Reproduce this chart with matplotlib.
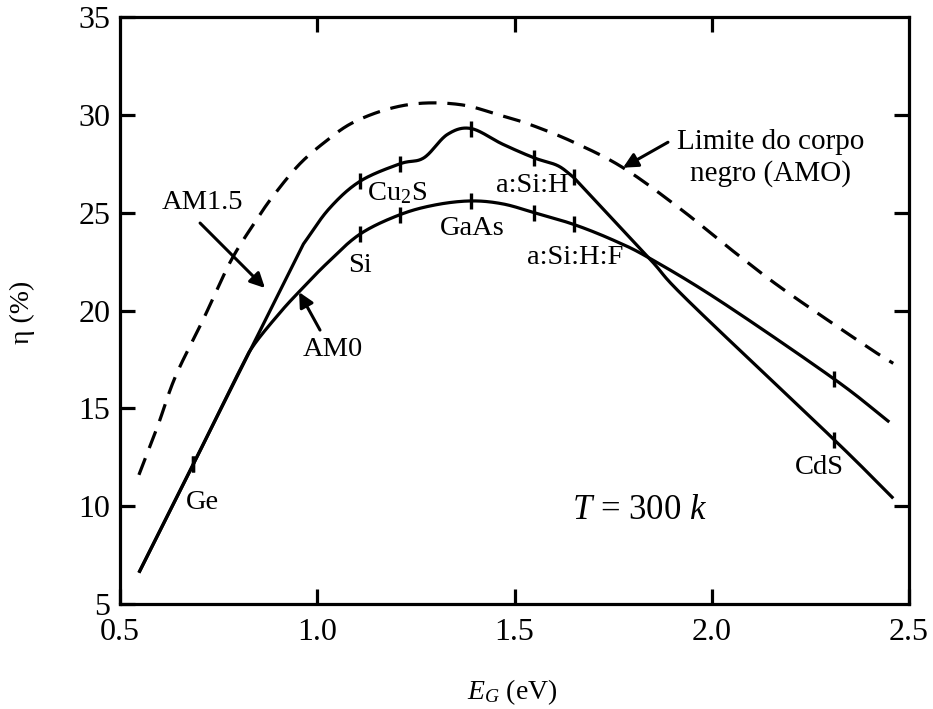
import numpy as np
import matplotlib
matplotlib.use("Agg")
import matplotlib.pyplot as plt

plt.rcParams['font.family'] = ['Liberation Serif', 'DejaVu Serif']
plt.rcParams['mathtext.fontset'] = 'custom'
plt.rcParams['mathtext.rm'] = 'Liberation Serif'
plt.rcParams['mathtext.it'] = 'Liberation Serif:italic'

# ---- data ----
bb_x = [0.548, 0.594, 0.64, 0.71, 0.78, 0.845, 0.89, 0.956, 1.025, 1.09, 1.18, 1.27, 1.37, 1.46, 1.54,
        1.65, 1.775, 1.92, 2.05, 2.18, 2.39, 2.46]
bb_y = [11.6, 14.0, 16.6, 19.5, 22.5, 24.6, 25.9, 27.5, 28.7, 29.6, 30.3, 30.6, 30.5, 30.0, 29.5,
        28.6, 27.3, 25.2, 23.1, 21.1, 18.2, 17.3]

am15_x = [0.548, 0.965, 1.03, 1.108, 1.21, 1.27, 1.33, 1.39, 1.47, 1.55, 1.61, 1.65, 1.84, 1.94, 2.31, 2.46]
am15_y = [6.6, 23.4, 25.2, 26.6, 27.5, 27.8, 29.0, 29.3, 28.5, 27.8, 27.4, 26.8, 22.7, 20.5, 13.4, 10.4]
am15_breaks = [1, 11]

am0_x = [0.548, 0.69, 0.80, 0.838, 0.906, 0.956, 1.024, 1.108, 1.21, 1.30, 1.39, 1.47, 1.55, 1.65,
         1.75, 1.84, 2.02, 2.31, 2.45]
am0_y = [6.6, 12.3, 16.8, 18.2, 19.9, 21.0, 22.4, 23.9, 24.9, 25.4, 25.6, 25.45, 25.0, 24.4,
         23.6, 22.7, 20.5, 16.5, 14.3]

mark_x = [0.686, 1.108, 1.21, 1.39, 1.55, 1.65, 2.31]

x_ticks = [0.5, 1.0, 1.5, 2.0, 2.5]
x_ticklabels = ['0.5', '1.0', '1.5', '2.0', '2.5']
y_ticks = [5, 10, 15, 20, 25, 30, 35]
y_right_ticks = [10, 20, 25, 30]


def catmull(x, y, n=30):
    x = np.asarray(x, float); y = np.asarray(y, float)
    if len(x) < 3:
        return x, y
    P = np.column_stack([x, y])
    P = np.vstack([2 * P[0] - P[1], P, 2 * P[-1] - P[-2]])
    out = []
    t = np.linspace(0, 1, n, endpoint=False)[:, None]
    for i in range(1, len(P) - 2):
        p0, p1, p2, p3 = P[i - 1], P[i], P[i + 1], P[i + 2]
        seg = 0.5 * ((2 * p1) + (-p0 + p2) * t + (2 * p0 - 5 * p1 + 4 * p2 - p3) * t ** 2
                     + (-p0 + 3 * p1 - 3 * p2 + p3) * t ** 3)
        out.append(seg)
    out.append(P[-2][None, :])
    out = np.vstack(out)
    return out[:, 0], out[:, 1]


def smooth(x, y, breaks=()):
    idx = [0] + list(breaks) + [len(x) - 1]
    xs, ys = [], []
    for a, b in zip(idx[:-1], idx[1:]):
        sx, sy = catmull(x[a:b + 1], y[a:b + 1])
        xs.append(sx); ys.append(sy)
    return np.concatenate(xs), np.concatenate(ys)


fig = plt.figure(figsize=(9.33, 7.09), dpi=100)
ax = fig.add_axes([0.1286, 0.1481, 0.8457, 0.8279])

lw = 2.3
bx, by = smooth(bb_x, bb_y)
ax.plot(bx, by, color='black', lw=lw, dashes=(5.6, 3.4))
ax_, ay_ = smooth(am15_x, am15_y, am15_breaks)
ax.plot(ax_, ay_, color='black', lw=lw, solid_capstyle='butt')
cx, cy = smooth(am0_x, am0_y)
ax.plot(cx, cy, color='black', lw=lw, solid_capstyle='butt')

# material tick marks on the curves
for xs, ys in ((ax_, ay_), (cx, cy)):
    order = np.argsort(xs)
    my = np.interp(mark_x, xs[order], ys[order])
    ax.plot(mark_x, my, linestyle='none', marker='|', markersize=12,
            markeredgewidth=2.4, color='black')

ax.set_xlim(0.5, 2.5)
ax.set_ylim(5, 35)
ax.set_xticks(x_ticks)
ax.set_xticklabels(x_ticklabels)
ax.set_yticks(y_ticks)
for s in ax.spines.values():
    s.set_linewidth(2.3)
ax.tick_params(axis='both', direction='in', length=11, width=2.3, labelsize=23)
ax.tick_params(axis='x', pad=10)
ax.tick_params(axis='y', pad=7)

# secondary ticks (top and right) without labels
top = ax.secondary_xaxis('top')
top.set_xticks([1.0, 1.5, 2.0])
top.tick_params(direction='in', length=11, width=2.3, labeltop=False)
top.spines['top'].set_visible(False)
right = ax.secondary_yaxis('right')
right.set_yticks(y_right_ticks)
right.tick_params(direction='in', length=11, width=2.3, labelright=False)
right.spines['right'].set_visible(False)

fig.text(0.0236, 0.56, 'η (%)', rotation=90, ha='center', va='center', fontsize=20)
fig.text(0.549, 0.024, r'$E_G$ (eV)', ha='center', va='center', fontsize=20)

fs = 20.5
ax.text(0.71, 10.2, 'Ge', fontsize=fs, ha='center', va='center')
ax.text(1.108, 22.3, 'Si', fontsize=fs, ha='center', va='center')
ax.text(1.202, 26.0, r'Cu$_2$S', fontsize=fs, ha='center', va='center')
ax.text(1.392, 24.2, 'GaAs', fontsize=fs, ha='center', va='center')
ax.text(1.544, 26.4, 'a:Si:H', fontsize=fs, ha='center', va='center')
ax.text(1.653, 22.7, 'a:Si:H:F', fontsize=fs, ha='center', va='center')
ax.text(2.274, 12.0, 'CdS', fontsize=fs, ha='center', va='center')
ax.text(1.818, 9.8, r'$T$ = 300 $k$', fontsize=25, ha='center', va='center')
ax.text(2.15, 27.8, 'Limite do corpo\nnegro (AMO)', fontsize=21, ha='center', va='center',
        linespacing=1.25)
ax.text(0.708, 25.5, 'AM1.5', fontsize=fs, ha='center', va='center')
ax.text(1.04, 18.0, 'AM0', fontsize=fs, ha='center', va='center')

arrow = dict(arrowstyle='-|>', color='black', lw=2.2, mutation_scale=22, shrinkA=0, shrinkB=0)
ax.annotate('', xy=(0.8675, 21.15), xytext=(0.703, 24.47), arrowprops=arrow)
ax.annotate('', xy=(0.954, 20.94), xytext=(1.007, 19.0), arrowprops=arrow)
ax.annotate('', xy=(1.775, 27.3), xytext=(1.889, 28.6), arrowprops=arrow)

fig.savefig('out.png', dpi=100)
